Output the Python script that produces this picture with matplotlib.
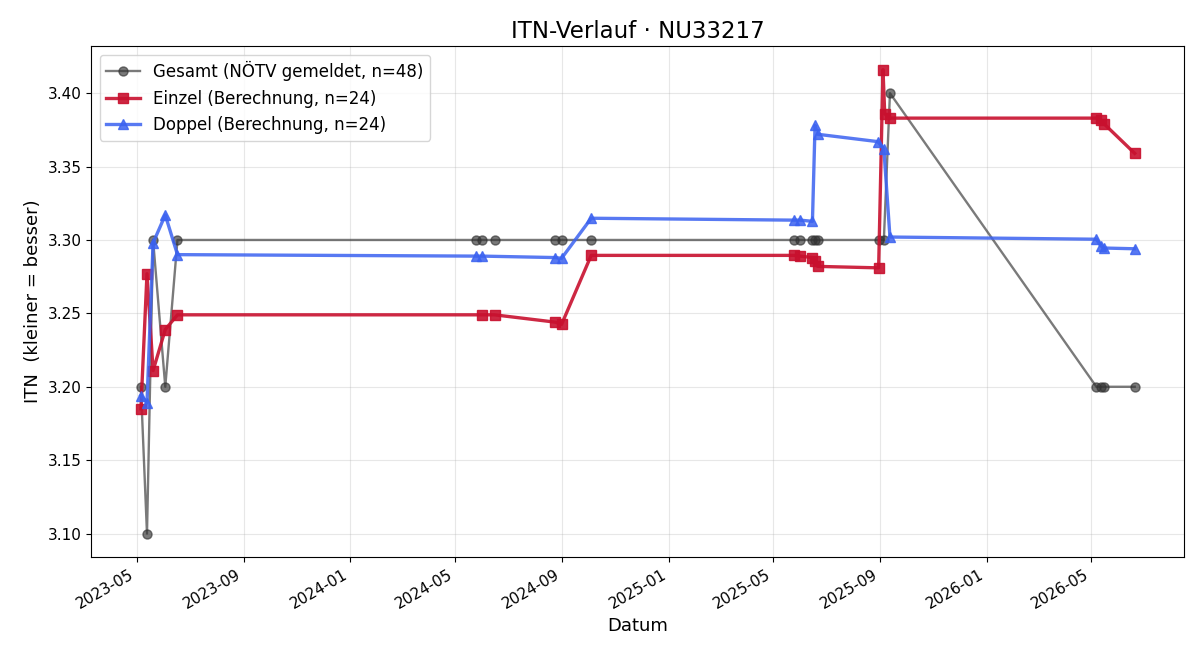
import numpy as np
import pandas as pd
import matplotlib
matplotlib.use("Agg")
import matplotlib.pyplot as plt
import matplotlib.dates as mdates

# Gesamt (NÖTV gemeldet)
gesamt_dates = ['2023-05-06', '2023-05-13', '2023-05-20', '2023-06-03', '2023-06-17',
                '2024-05-25', '2024-06-01', '2024-06-15', '2024-08-24', '2024-08-31',
                '2024-10-04', '2025-05-25', '2025-06-01', '2025-06-15', '2025-06-18',
                '2025-06-21', '2025-08-30', '2025-09-05', '2025-09-12', '2026-05-07',
                '2026-05-12', '2026-05-16', '2026-06-20']
gesamt_itn = [3.20, 3.10, 3.30, 3.20, 3.30,
              3.30, 3.30, 3.30, 3.30, 3.30,
              3.30, 3.30, 3.30, 3.30, 3.30,
              3.30, 3.30, 3.30, 3.40, 3.20,
              3.20, 3.20, 3.20]

# Einzel (Berechnung)
einzel_dates = ['2023-05-06', '2023-05-13', '2023-05-20', '2023-06-03', '2023-06-17',
                '2024-06-01', '2024-06-15', '2024-08-24', '2024-08-31', '2024-10-04',
                '2025-05-25', '2025-06-01', '2025-06-15', '2025-06-18', '2025-06-21',
                '2025-08-30', '2025-09-04', '2025-09-06', '2025-09-12', '2026-05-07',
                '2026-05-12', '2026-05-16', '2026-06-20']
einzel_itn = [3.185, 3.277, 3.211, 3.239, 3.249,
              3.249, 3.249, 3.244, 3.2425, 3.2895,
              3.2895, 3.289, 3.288, 3.2855, 3.282,
              3.281, 3.416, 3.386, 3.383, 3.383,
              3.3815, 3.379, 3.359]

# Doppel (Berechnung)
doppel_dates = ['2023-05-06', '2023-05-13', '2023-05-20', '2023-06-03', '2023-06-17',
                '2024-05-25', '2024-06-01', '2024-08-24', '2024-08-31', '2024-10-04',
                '2025-05-25', '2025-06-01', '2025-06-15', '2025-06-18', '2025-06-21',
                '2025-08-29', '2025-09-05', '2025-09-12', '2026-05-07', '2026-05-12',
                '2026-05-16', '2026-06-20']
doppel_itn = [3.194, 3.189, 3.298, 3.317, 3.290,
              3.289, 3.289, 3.288, 3.2875, 3.3148,
              3.3135, 3.3135, 3.3127, 3.378, 3.372,
              3.367, 3.362, 3.302, 3.3005, 3.296,
              3.2945, 3.294]

fig, ax = plt.subplots(figsize=(12, 6.6), dpi=100)

ax.plot(pd.to_datetime(gesamt_dates), gesamt_itn, marker='o', markersize=6.5,
        color='#333333', alpha=0.65, linewidth=1.7,
        label='Gesamt (NÖTV gemeldet, n=48)')
ax.plot(pd.to_datetime(einzel_dates), einzel_itn, marker='s', markersize=7.5,
        color='#c8102e', alpha=0.9, linewidth=2.4,
        label='Einzel (Berechnung, n=24)')
ax.plot(pd.to_datetime(doppel_dates), doppel_itn, marker='^', markersize=7.5,
        color='#3b62f0', alpha=0.85, linewidth=2.4,
        label='Doppel (Berechnung, n=24)')

ax.xaxis.set_major_locator(mdates.MonthLocator(bymonth=[1, 5, 9]))
ax.xaxis.set_major_formatter(mdates.DateFormatter('%Y-%m'))
fig.autofmt_xdate()
ax.tick_params(labelsize=11)

ax.set_ylim(3.084, 3.432)
ax.yaxis.set_major_formatter(plt.FormatStrFormatter('%.2f'))
ax.grid(True, alpha=0.3)
ax.set_title('ITN-Verlauf · NU33217', fontsize=16.5)
ax.set_xlabel('Datum', fontsize=13)
ax.set_ylabel('ITN  (kleiner = besser)', fontsize=13)
ax.legend(loc='upper left', fontsize=12)

plt.subplots_adjust(left=0.076, right=0.987, top=0.93, bottom=0.156)
plt.savefig('out.png', dpi=100)
